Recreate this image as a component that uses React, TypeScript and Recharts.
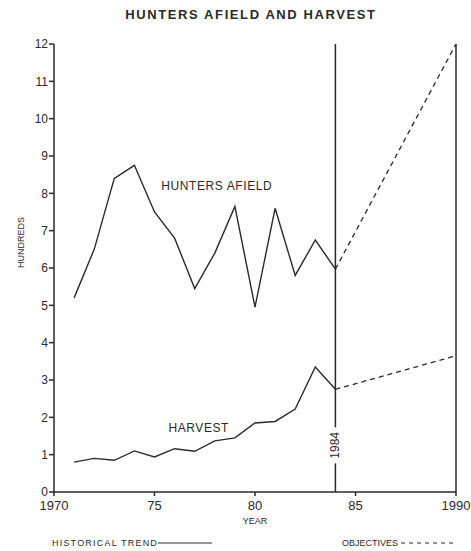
import React from "react";
import {
  ComposedChart,
  Line,
  XAxis,
  YAxis,
  ReferenceLine,
  ReferenceDot,
} from "recharts";

// historical record, 1971-1984 (hundreds)
const years = [1971, 1972, 1973, 1974, 1975, 1976, 1977, 1978, 1979, 1980, 1981, 1982, 1983, 1984];
const huntersAfield = [5.2, 6.5, 8.4, 8.75, 7.5, 6.8, 5.45, 6.4, 7.65, 4.95, 7.6, 5.8, 6.75, 5.97];
const harvest = [0.8, 0.9, 0.85, 1.1, 0.94, 1.16, 1.09, 1.37, 1.45, 1.85, 1.89, 2.22, 3.35, 2.75];

// objectives, 1984 -> 1990
const objectiveYears = [1984, 1990];
const huntersObjective = [5.97, 12];
const harvestObjective = [2.75, 3.65];

const xTicks = [1970, 1975, 1980, 1985, 1990];
const xTickLabels = ["1970", "75", "80", "85", "1990"];
const yTicks = [0, 1, 2, 3, 4, 5, 6, 7, 8, 9, 10, 11, 12];

const INK = "#2a2a2a";
const FONT = "'Liberation Sans', Arial, sans-serif";

const historical = years.map((year, i) => ({
  year,
  hunters: huntersAfield[i],
  harvest: harvest[i],
}));
const objectives = objectiveYears.map((year, i) => ({
  year,
  hunters: huntersObjective[i],
  harvest: harvestObjective[i],
}));

const TextMark = (text: string, size: number) => (props: any) => {
  const { cx, cy } = props;
  return (
    <text
      x={cx}
      y={cy}
      textAnchor="middle"
      dominantBaseline="central"
      fontSize={size}
      letterSpacing={0.6}
      fill={INK}
      fontFamily={FONT}
    >
      {text}
    </text>
  );
};

const YearMark = (props: any) => {
  const { cx, cy } = props;
  return (
    <g>
      <rect x={cx - 7} y={cy - 18} width={14} height={36} fill="#fff" />
      <text
        x={cx}
        y={cy}
        transform={`rotate(-90 ${cx} ${cy})`}
        textAnchor="middle"
        dominantBaseline="central"
        fontSize={12}
        fill={INK}
        fontFamily={FONT}
      >
        1984
      </text>
    </g>
  );
};

export default function App() {
  return (
    <div
      style={{
        position: "absolute",
        left: 0,
        top: 0,
        width: 471,
        height: 551,
        background: "#fff",
        fontFamily: FONT,
        color: INK,
      }}
    >
      <div
        style={{
          position: "absolute",
          left: 0,
          width: 502,
          top: 7,
          textAlign: "center",
          fontSize: 13,
          fontWeight: "bold",
          letterSpacing: 1.6,
        }}
      >
        HUNTERS AFIELD AND HARVEST
      </div>

      <ComposedChart
        width={471}
        height={551}
        margin={{ top: 44, right: 0, bottom: 29, left: 0 }}
      >
        <XAxis
          dataKey="year"
          type="number"
          domain={[1970, 1990]}
          ticks={xTicks}
          tickFormatter={(v: number) => xTickLabels[xTicks.indexOf(v)]}
          allowDataOverflow
          height={30}
          stroke={INK}
          strokeWidth={1.5}
          tickSize={4}
          tickMargin={5}
          tick={{ fill: INK, fontSize: 13, fontFamily: FONT }}
          label={{
            value: "YEAR",
            position: "insideBottom",
            offset: -2,
            fontSize: 9,
            fill: INK,
            fontFamily: FONT,
          }}
        />
        <YAxis
          yAxisId="left"
          type="number"
          domain={[0, 12]}
          ticks={yTicks}
          interval={0}
          width={54}
          stroke={INK}
          strokeWidth={1.5}
          tickSize={5}
          tickMargin={1}
          tick={{ fill: INK, fontSize: 12, fontFamily: FONT }}
          label={{
            value: "HUNDREDS",
            angle: -90,
            position: "insideLeft",
            offset: 21,
            fontSize: 9,
            fill: INK,
            fontFamily: FONT,
          }}
        />
        <YAxis
          yAxisId="right"
          orientation="right"
          type="number"
          domain={[0, 12]}
          ticks={yTicks}
          interval={0}
          width={15}
          stroke={INK}
          strokeWidth={1.5}
          tickSize={3}
          tick={false}
        />

        <ReferenceLine
          yAxisId="left"
          x={1984}
          stroke={INK}
          strokeWidth={1.5}
        />

        <Line
          yAxisId="left"
          data={historical}
          dataKey="hunters"
          type="linear"
          stroke={INK}
          strokeWidth={1.4}
          dot={false}
          isAnimationActive={false}
        />
        <Line
          yAxisId="left"
          data={historical}
          dataKey="harvest"
          type="linear"
          stroke={INK}
          strokeWidth={1.4}
          dot={false}
          isAnimationActive={false}
        />
        <Line
          yAxisId="left"
          data={objectives}
          dataKey="hunters"
          type="linear"
          stroke={INK}
          strokeWidth={1.3}
          strokeDasharray="5 4"
          dot={false}
          isAnimationActive={false}
        />
        <Line
          yAxisId="left"
          data={objectives}
          dataKey="harvest"
          type="linear"
          stroke={INK}
          strokeWidth={1.3}
          strokeDasharray="5 4"
          dot={false}
          isAnimationActive={false}
        />

        <ReferenceDot
          yAxisId="left"
          x={1978.1}
          y={8.2}
          r={0}
          shape={TextMark("HUNTERS AFIELD", 12)}
        />
        <ReferenceDot
          yAxisId="left"
          x={1977.2}
          y={1.72}
          r={0}
          shape={TextMark("HARVEST", 12)}
        />
        <ReferenceDot yAxisId="left" x={1984} y={1.25} r={0} shape={YearMark} />
      </ComposedChart>

      <div
        style={{
          position: "absolute",
          left: 52,
          top: 538,
          fontSize: 9,
          letterSpacing: 1.2,
          display: "flex",
          alignItems: "center",
        }}
      >
        HISTORICAL TREND
        <svg width={54} height={6} style={{ marginLeft: 0 }}>
          <line x1={0} y1={3} x2={54} y2={3} stroke={INK} strokeWidth={1} />
        </svg>
      </div>
      <div
        style={{
          position: "absolute",
          left: 342,
          top: 538,
          fontSize: 9,
          display: "flex",
          alignItems: "center",
        }}
      >
        OBJECTIVES
        <svg width={56} height={6} style={{ marginLeft: 3 }}>
          <line
            x1={0}
            y1={3}
            x2={56}
            y2={3}
            stroke={INK}
            strokeWidth={1}
            strokeDasharray="4 4"
          />
        </svg>
      </div>
    </div>
  );
}
